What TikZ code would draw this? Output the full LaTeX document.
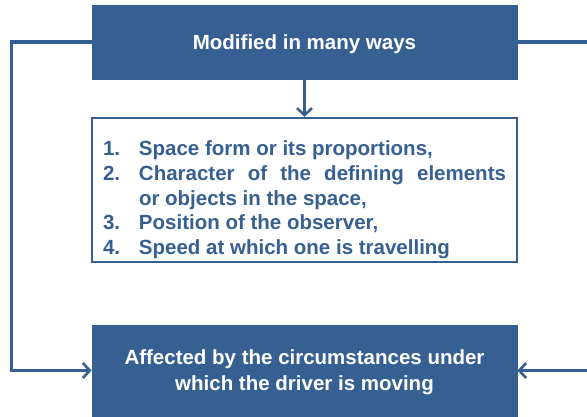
\documentclass[tikz,border=0pt]{standalone}
\usepackage{fontspec}
\setmainfont{Liberation Sans}
\usetikzlibrary{arrows.meta,positioning}
\definecolor{boxblue}{RGB}{54,96,146}

\begin{document}
\begin{tikzpicture}[x=1pt, y=-1pt, thick,
	>={Straight Barb[length=7pt,width=15pt,line width=2.6pt]},
	link/.style={draw=boxblue, line width=3.2pt},
	blue box/.style={fill=boxblue, draw=boxblue, text=white, minimum width=425pt,
		inner sep=0pt, align=center, font=\fontsize{20.5}{26}\selectfont\bfseries},
	list box/.style={draw=boxblue, line width=2.2pt, fill=white, text=boxblue, minimum width=425pt,
		minimum height=144pt, inner sep=0pt, font=\fontsize{20.5}{24.7}\selectfont\bfseries}]

	\useasboundingbox (0,0) rectangle (587,416);

	\node[blue box, minimum height=74pt, text depth=-1pt] (mod) at (304.5,42) {Modified in many ways};
	\node[list box] (list) at (304.5,190) {%
		\parbox{403pt}{\vspace*{20pt}\setlength{\parindent}{0pt}\setlength{\parfillskip}{0pt plus 1fil}%
			\hangindent=36pt\hangafter=1\makebox[36pt][l]{1.}Space form or its proportions,\par
			\hangindent=36pt\hangafter=1\makebox[36pt][l]{2.}Character of the defining elements\linebreak or objects in the space,\par
			\hangindent=36pt\hangafter=1\makebox[36pt][l]{3.}Position of the observer,\par
			\hangindent=36pt\hangafter=1\makebox[36pt][l]{4.}Speed at which one is travelling\par}};
	\node[blue box, minimum height=91pt, text depth=-4pt] (aff) at (304.5,370.5)
		{Affected by the circumstances under\\which the driver is moving};

	\coordinate (left) at ([xshift=-80pt]mod.west);
	\coordinate (right) at ([xshift=83pt]mod.east);

	\path[link, ->] (mod) -- (list);
	\path[link, ->] (mod.west) -- (left) |- (aff.west);
	\path[link, ->] (mod.east) -- (right) |- (aff.east);
\end{tikzpicture}
\end{document}
